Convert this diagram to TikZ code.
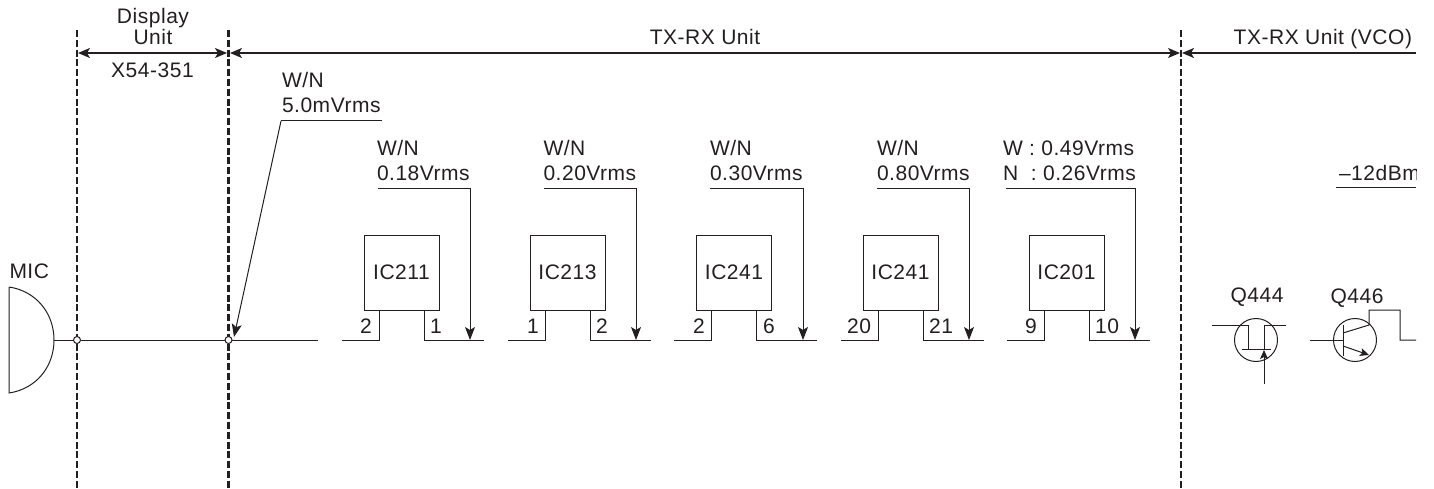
\documentclass[tikz,border=0pt]{standalone}
\usepackage{fontspec}
\setmainfont[LetterSpace=2.5]{Liberation Sans}
\usetikzlibrary{arrows.meta,positioning}
\definecolor{ManualInk}{HTML}{231F20}

\begin{document}
\begin{tikzpicture}[x=1pt, y=-1pt, line width=1pt, ManualInk,
    every node/.style={font=\fontsize{21}{25}\selectfont, inner sep=0pt, outer sep=0pt},
    unitline/.style={dash pattern=on 7pt off 2.8pt, line width=2.2pt},
    span/.style={line width=1.4pt, {Stealth[length=12pt,width=10pt,inset=3pt]}-{Stealth[length=12pt,width=10pt,inset=3pt]}},
    spanleft/.style={line width=1.4pt, {Stealth[length=12pt,width=10pt,inset=3pt]}-},
    wire/.style={line width=1pt},
    probe/.style={line width=1pt, -{Stealth[length=13pt,width=10pt,inset=3pt]}},
    smalltip/.style={-{Stealth[length=9pt,width=8pt,inset=2pt]}},
    icbox/.style={draw, minimum width=75pt, minimum height=75pt, text depth=0pt},
    reading/.style={anchor=base west},
    pinno/.style={anchor=base},
    tapdot/.style={circle, draw, fill=white, minimum size=7pt, line width=1pt}]
    \useasboundingbox (0,0) rectangle (1434,489);

    \coordinate (div1top) at (77,30);
    \coordinate (div1bot) at (77,489);
    \coordinate (div2top) at (228.5,30);
    \coordinate (div2bot) at (228.5,489);
    \coordinate (div3top) at (1181,30);
    \coordinate (div3bot) at (1181,489);
    \draw[unitline] (div1top) -- (div1bot);
    \draw[unitline] (div2top) -- (div2bot);
    \draw[unitline] (div3top) -- (div3bot);

    \coordinate (dim1a) at (78,53);
    \coordinate (dim1b) at (227,53);
    \coordinate (dim2a) at (230,53);
    \coordinate (dim2b) at (1180,53);
    \coordinate (dim3a) at (1182,53);
    \coordinate (dim3b) at (1416,53);
    \draw[span] (dim1a) -- (dim1b);
    \draw[span] (dim2a) -- (dim2b);
    \draw[spanleft] (dim3a) -- (dim3b);

    \node[pinno] (display) at (153,24) {Display};
    \node[pinno] (dispunit) at (153,45) {Unit};
    \node[pinno] (x54) at (152.5,78) {X54-351};
    \node[pinno] (txrx) at (705,45) {TX-RX Unit};
    \node[anchor=base east] (vco) at (1412,45) {TX-RX Unit (VCO)};

    \node[reading] (micname) at (9.5,278) {MIC};
    \coordinate (mictop) at (9,287);
    \coordinate (micbot) at (9,393);
    \coordinate (micout) at (54,340);
    \draw[wire] (mictop) .. controls (36,291) and (54,313) .. (micout) .. controls (54,367) and (36,389) .. (micbot) -- (mictop);

    \coordinate (wireend) at (318,340);
    \node[tapdot] (tap1) at (77,340) {};
    \node[tapdot] (tap2) at (228.5,340) {};
    \draw[wire] (micout) -- (tap1);
    \draw[wire] (tap1) -- (tap2);
    \draw[wire] (tap2) -- (wireend);

    \node[reading] (inlevel) at (282,88) {W/N};
    \node[reading, below=0pt of inlevel.base west, anchor=base west, yshift=-25pt] (inrms) {5.0mVrms};
    \coordinate (inlead) at (382,121);
    \coordinate (inbend) at (281,121);
    \coordinate (intip) at (234,337);
    \draw[wire] (inlead) -- (inbend);
    \draw[probe] (inbend) -- (intip);

    \node[icbox] (ic211) at (401.5,272.5) {IC211};
    \node[icbox, right=91pt of ic211] (ic213) {IC213};
    \node[icbox, right=91.5pt of ic213] (ic241a) {IC241};
    \node[icbox, right=91.5pt of ic241a] (ic241b) {IC241};
    \node[icbox, right=91pt of ic241b] (ic201) {IC201};

    \coordinate (in211) at (342,340);
    \coordinate (out211) at (484,340);
    \coordinate (tap211) at (470,340);
    \coordinate (lead211) at (378,189);
    \draw[wire] (in211) -| ([xshift=15pt]ic211.south west);
    \draw[wire] ([xshift=-15pt]ic211.south east) |- (out211);
    \draw[probe] (lead211) -| (tap211);
    \node[pinno] (pin211a) at (366,333) {2};
    \node[pinno] (pin211b) at (436,333) {1};
    \node[reading] (top211) at (377,156) {W/N};
    \node[reading] (rms211) at (377,181) {0.18Vrms};

    \coordinate (in213) at (508,340);
    \coordinate (out213) at (651,340);
    \coordinate (tap213) at (636,340);
    \coordinate (lead213) at (544,189);
    \draw[wire] (in213) -| ([xshift=15pt]ic213.south west);
    \draw[wire] ([xshift=-15pt]ic213.south east) |- (out213);
    \draw[probe] (lead213) -| (tap213);
    \node[pinno] (pin213a) at (533,333) {1};
    \node[pinno] (pin213b) at (602,333) {2};
    \node[reading] (top213) at (543.5,156) {W/N};
    \node[reading] (rms213) at (543.5,181) {0.20Vrms};

    \coordinate (in241a) at (674,340);
    \coordinate (out241a) at (817,340);
    \coordinate (tap241a) at (803,340);
    \coordinate (lead241a) at (710,189);
    \draw[wire] (in241a) -| ([xshift=15pt]ic241a.south west);
    \draw[wire] ([xshift=-15pt]ic241a.south east) |- (out241a);
    \draw[probe] (lead241a) -| (tap241a);
    \node[pinno] (pin241aa) at (699,333) {2};
    \node[pinno] (pin241ab) at (769,333) {6};
    \node[reading] (top241a) at (710,156) {W/N};
    \node[reading] (rms241a) at (710,181) {0.30Vrms};

    \coordinate (in241b) at (841,340);
    \coordinate (out241b) at (984,340);
    \coordinate (tap241b) at (969,340);
    \coordinate (lead241b) at (877,189);
    \draw[wire] (in241b) -| ([xshift=15pt]ic241b.south west);
    \draw[wire] ([xshift=-15pt]ic241b.south east) |- (out241b);
    \draw[probe] (lead241b) -| (tap241b);
    \node[pinno] (pin241ba) at (859,333) {20};
    \node[pinno] (pin241bb) at (941,333) {21};
    \node[reading] (top241b) at (877,156) {W/N};
    \node[reading] (rms241b) at (877,181) {0.80Vrms};

    \coordinate (in201) at (1007,340);
    \coordinate (out201) at (1150,340);
    \coordinate (tap201) at (1135,340);
    \coordinate (lead201) at (1006,189);
    \draw[wire] (in201) -| ([xshift=15pt]ic201.south west);
    \draw[wire] ([xshift=-15pt]ic201.south east) |- (out201);
    \draw[probe] (lead201) -| (tap201);
    \node[pinno] (pin201a) at (1031,333) {9};
    \node[pinno] (pin201b) at (1107,333) {10};
    \node[reading] (top201) at (1003,156) {W : 0.49Vrms};
    \node[reading] (rms201) at (1003,181) {N \ : 0.26Vrms};

    \begin{scope}
      \clip (1300,150) rectangle (1416,200);
      \node[reading] (dbm) at (1339,181) {--12dBm};
    \end{scope}
    \coordinate (dbmleft) at (1336,188);
    \coordinate (dbmright) at (1416,188);
    \draw[wire] (dbmleft) -- (dbmright);

    \node[pinno] (q444name) at (1257,302) {Q444};
    \node[circle, draw, minimum size=43pt] (q444) at (1256,340) {};
    \coordinate (q444gate) at (1212,325);
    \coordinate (q444drain) at (1286,325);
    \coordinate (q444barl) at (1242,349);
    \coordinate (q444barr) at (1271,349);
    \coordinate (q444src) at (1264,384);
    \coordinate (q444tip) at (1264,350);
    \coordinate (q444d) at (1248,349);
    \coordinate (q444s) at (1264,349);
    \draw[wire] (q444gate) -| (q444d);
    \draw[wire] (q444drain) -| (q444s);
    \draw[wire] (q444barl) -- (q444barr);
    \draw[smalltip] (q444src) -- (q444tip);

    \node[pinno] (q446name) at (1357,303) {Q446};
    \node[circle, draw, minimum size=43pt] (q446) at (1355,340) {};
    \coordinate (q446in) at (1310,340);
    \coordinate (q446b) at (1343,340);
    \coordinate (q446bart) at (1343,325);
    \coordinate (q446barb) at (1343,356);
    \coordinate (q446c) at (1343,333);
    \coordinate (q446cout) at (1369,325);
    \coordinate (q446up) at (1369,310);
    \coordinate (q446over) at (1400,310);
    \coordinate (q446down) at (1400,340);
    \coordinate (q446out) at (1416,340);
    \coordinate (q446e) at (1343,346);
    \coordinate (q446etip) at (1369,355);
    \draw[wire] (q446in) -- (q446b);
    \draw[wire] (q446bart) -- (q446barb);
    \draw[wire] (q446c) -- (q446cout) -- (q446up) -- (q446over) -- (q446down) -- (q446out);
    \draw[smalltip] (q446e) -- (q446etip);
  \end{tikzpicture}
\end{document}
